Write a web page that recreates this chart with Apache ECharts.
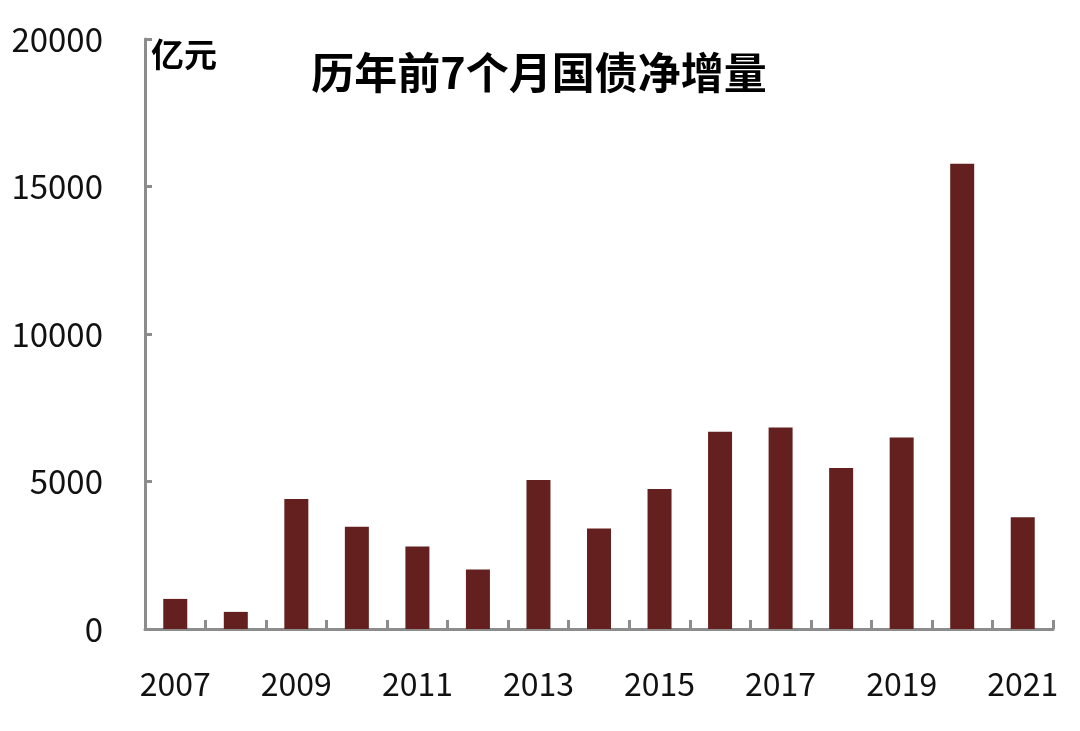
<!DOCTYPE html>
<html>
<head>
<meta charset="utf-8">
<script src="https://cdn.jsdelivr.net/npm/echarts@6/dist/echarts.min.js"></script>
<style>
html,body{margin:0;padding:0;background:#fff;}
#chart{width:1080px;height:731px;}
</style>
</head>
<body>
<div id="chart"></div>
<script>
var categories = ['2007','2008','2009','2010','2011','2012','2013','2014','2015','2016','2017','2018','2019','2020','2021'];
var netIncrease = [1020, 580, 4410, 3470, 2800, 2015, 5050, 3405, 4750, 6690, 6830, 5460, 6490, 15775, 3785];
var yTicks = [0, 5000, 10000, 15000, 20000];
var titleText = '历年前7个月国债净增量';
var unitText = '亿元';

var chart = echarts.init(document.getElementById('chart'), null, {renderer:'canvas'});
var fontFam = '"Noto Sans CJK SC", "Noto Sans", sans-serif';
var axisGray = '#8c8c8c';
chart.setOption({
  animation: false,
  backgroundColor: '#ffffff',
  title: [
    {
      text: titleText,
      left: 534, top: 46, textAlign: 'center',
      textStyle: {fontFamily: fontFam, fontSize: 43, fontWeight: 'bold', color: '#000'}
    },
    {
      text: unitText,
      left: 146, top: 33,
      textStyle: {fontFamily: fontFam, fontSize: 33, fontWeight: 'bold', color: '#000'}
    }
  ],
  grid: {left: 145, right: 27, top: 39, bottom: 102, containLabel: false},
  xAxis: {
    type: 'category',
    data: categories,
    boundaryGap: true,
    axisLine: {show: true, lineStyle: {color: axisGray, width: 3}},
    axisTick: {show: true, inside: true, length: 9, interval: 0, alignWithLabel: false, lineStyle: {color: axisGray, width: 3}},
    axisLabel: {
      interval: 1, margin: 39,
      fontFamily: fontFam, fontSize: 32, color: '#111'
    }
  },
  yAxis: {
    type: 'value',
    min: yTicks[0], max: yTicks[yTicks.length - 1], interval: yTicks[1] - yTicks[0],
    splitLine: {show: false},
    axisLine: {show: true, lineStyle: {color: axisGray, width: 3}},
    axisTick: {show: true, inside: true, length: 7, lineStyle: {color: axisGray, width: 3}},
    axisLabel: {
      margin: 42, fontFamily: fontFam, fontSize: 33, color: '#111',
      formatter: function (v) { return String(v); }
    }
  },
  series: [{
    type: 'bar',
    data: netIncrease,
    barWidth: 24,
    itemStyle: {color: '#63201F'}
  }]
});
</script>
</body>
</html>
